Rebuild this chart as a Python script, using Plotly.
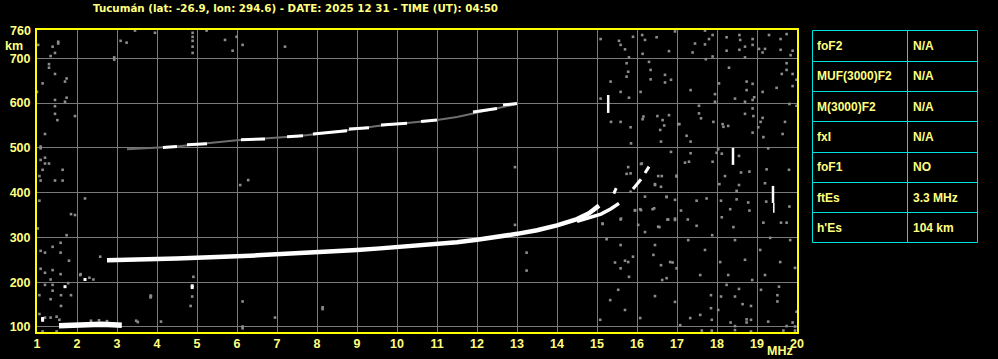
import plotly.graph_objects as go

# ---------------- data ----------------
title_text = "Tucumán (lat: -26.9, lon: 294.6) - DATE: 2025 12 31 - TIME (UT): 04:50"
freq_ticks = list(range(1, 21))
height_ticks = [100, 200, 300, 400, 500, 600, 700]
height_top_label = 760

param_names = ["foF2", "MUF(3000)F2", "M(3000)F2", "fxI", "foF1", "ftEs", "h'Es"]
param_values = ["N/A", "N/A", "N/A", "N/A", "NO", "3.3 MHz", "104 km"]

# Sporadic E echo
es_f = [1.55, 1.8, 2.0, 2.3, 2.6, 2.9, 3.12]
es_h = [103, 104, 106, 106, 106, 105, 104]

# F-layer trace (ordinary)
fo_f = [2.75, 3.0, 3.5, 4.0, 4.5, 5.0, 5.5, 6.0, 6.5, 7.0, 7.5, 8.0, 8.5, 9.0, 9.5,
        10.0, 10.5, 11.0, 11.5, 12.0, 12.5, 13.0, 13.5, 14.0, 14.5, 14.8, 15.05]
fo_h = [249, 250, 251, 252, 253, 254, 256, 258, 260, 262, 264, 266, 269, 272, 275,
        278, 281, 285, 289, 295, 301, 308, 316, 327, 341, 354, 371]

# F-layer second strand
fx_f = [14.5, 14.8, 15.1, 15.35, 15.55]
fx_h = [336, 343, 352, 364, 376]

# upper fragments near the critical frequency
frag_f = [15.42, 15.48, None, 15.9, 16.0, 16.1, None, 16.2, 16.3]
frag_h = [398, 410, None, 408, 418, 430, None, 444, 458]

# multiple-hop (2F) trace, weak part
f2_weak_f = [3.25, 3.7, 4.2, 4.5, 5.0, 5.5, 6.0, 6.5, 7.0, 7.5, 8.0, 8.5, 9.0, 9.5,
             10.0, 10.5, 11.0, 11.5, 12.0, 12.5, 13.0]
f2_weak_h = [497, 499, 501, 503, 508, 513, 517, 520, 523, 526, 531, 536, 542, 549,
             553, 558, 562, 569, 579, 588, 598]
# multiple-hop (2F) trace, strong fragments
f2_strong_f = [4.15, 4.5, None, 4.75, 5.25, None, 6.1, 6.7, None, 7.25, 7.65, None,
               7.9, 8.75, None, 8.8, 9.3, None, 9.6, 10.25, None, 10.6, 11.0, None,
               11.9, 12.5, None, 12.65, 13.0]
f2_strong_h = [501, 503, None, 507, 509, None, 518, 520, None, 525, 527, None,
               531, 538, None, 542, 545, None, 551, 555, None, 559, 562, None,
               580, 588, None, 596, 599]

# isolated vertical interference bars
bar_f = [15.28, 15.28, None, 18.4, 18.4, None, 19.4, 19.4]
bar_h = [578, 618, None, 462, 500, None, 377, 415]
bar_thin_f = [19.42, 19.42]
bar_thin_h = [355, 377]

# strong isolated echoes
white_f = [1.14, 1.14, 1.7, 2.2, 4.88, 4.88]
white_h = [119, 115, 190, 206, 192, 188]

# weak scattered noise echoes
noise = [
    (1.03, 730), (1.39, 726), (1.53, 737), (1.53, 733), (1.45, 712), (1.34, 705), (1.3, 687),
    (1.3, 679), (1.45, 665), (1.74, 655), (1.7, 648), (1.14, 644), (1.0, 625), (1.45, 607),
    (1.74, 612), (1.7, 603), (1.45, 593), (1.45, 576), (1.51, 562), (1.95, 571),
    (1.2, 531), (1.09, 503), (1.09, 499), (1.2, 478), (1.09, 473), (1.2, 465), (1.3, 465),
    (1.14, 451), (1.64, 451), (1.06, 437), (1.09, 427), (1.45, 427), (1.64, 427), (2.2, 387),
    (1.06, 382), (1.85, 352), (1.95, 350),
    (1.74, 305), (1.02, 320), (1.39, 279), (1.59, 288), (1.09, 270), (1.2, 266), (1.59, 266),
    (1.8, 248), (1.09, 230), (1.39, 227), (1.2, 221), (1.59, 218), (1.34, 206), (2.09, 218),
    (2.31, 210), (2.41, 206), (1.78, 198), (1.2, 194), (1.39, 194), (1.06, 171), (1.39, 181),
    (1.34, 162), (1.6, 171), (1.85, 171), (1.6, 147), (1.06, 129), (1.2, 121), (1.34, 121),
    (1.49, 123), (1.56, 116), (1.14, 90), (1.49, 90),
    (3.84, 170), (3.84, 166), (4.84, 147), (4.88, 168), (6.14, 157), (6.14, 101), (6.14, 97),
    (6.95, 121), (4.1, 112), (3.48, 114), (3.52, 111), (2.35, 114), (2.55, 115), (2.75, 113),
    (4.91, 212), (3.85, 169), (8.14, 144), (8.14, 140), (2.58, 257), (2.08, 216),
    (2.93, 702), (2.93, 697), (3.09, 739), (3.24, 735), (3.45, 762), (3.95, 757), (4.89, 757),
    (4.89, 748), (4.89, 739), (4.89, 726), (4.89, 712), (5.24, 762), (5.7, 741), (5.99, 748),
    (5.89, 717), (6.14, 730), (7.2, 726), (6.08, 417), (6.28, 428),
    (12.95, 457), (12.95, 328), (13.24, 266), (13.24, 226), (15.14, 331), (15.24, 296),
    (15.59, 283), (15.59, 231), (15.45, 244), (15.7, 248), (15.9, 257), (15.8, 212),
    (16.08, 363), (15.95, 360), (15.78, 457), (15.74, 442), (16.1, 464), (15.84, 402),
    (16.2, 391), (16.43, 365), (16.53, 324), (16.74, 391), (16.95, 384), (16.76, 340),
    (16.95, 339), (16.53, 437), (16.6, 413), (16.45, 417), (16.99, 438), (16.41, 261),
    (16.6, 238), (16.74, 209), (16.89, 244), (16.99, 231), (15.59, 340),
    (15.09, 743), (15.55, 739), (15.59, 730), (15.7, 720), (15.9, 748), (15.8, 702),
    (16.13, 752), (16.2, 741), (16.14, 710), (16.49, 747), (16.8, 716), (16.95, 760),
    (17.45, 733), (17.39, 713), (17.7, 762), (17.7, 731), (17.8, 743), (17.89, 752),
    (17.72, 698), (17.89, 704), (18.24, 747), (18.24, 717), (18.56, 752), (18.58, 741),
    (18.7, 726), (18.89, 743), (18.89, 730), (18.56, 719), (18.7, 702), (19.05, 721),
    (19.2, 721), (19.14, 713), (19.3, 752), (19.59, 743), (19.59, 719), (19.74, 754),
    (19.89, 717), (19.84, 707),
    (15.09, 610), (15.34, 648), (15.59, 625), (15.8, 612), (15.74, 689), (15.78, 670),
    (15.74, 659), (16.3, 692), (16.34, 674), (16.34, 653), (16.7, 663), (16.7, 646),
    (16.85, 652), (16.09, 625), (17.34, 629), (17.95, 620), (17.95, 603), (18.05, 644),
    (18.3, 679), (18.45, 610), (18.74, 648), (18.89, 643), (18.74, 629), (18.93, 613),
    (18.89, 607), (18.7, 603), (19.14, 625), (19.49, 634), (19.74, 689), (19.74, 674),
    (19.89, 665), (19.89, 638), (19.99, 652), (19.62, 665), (16.16, 570), (16.51, 571),
    (16.64, 562), (16.8, 573), (17.03, 553), (17.55, 594), (17.55, 577), (17.6, 566),
    (17.91, 558), (18.7, 576), (18.89, 588), (18.91, 571), (19.09, 558), (19.14, 567),
    (19.7, 558), (19.81, 598), (19.99, 594), (16.14, 564), (15.84, 546), (16.68, 550),
    (18.16, 547), (19.03, 546), (15.59, 558), (15.35, 558),
    (15.85, 510), (16.58, 540), (16.6, 514), (16.85, 491), (17.06, 553), (17.24, 527),
    (17.34, 514), (17.34, 488), (17.2, 467), (17.3, 469), (17.89, 469), (17.99, 489),
    (18.03, 497), (18.14, 553), (18.28, 549), (18.12, 487), (18.55, 482), (18.6, 445),
    (18.81, 447), (18.2, 437), (18.89, 534), (19.16, 524), (19.28, 499), (19.64, 531),
    (19.24, 452), (19.8, 451), (18.06, 419), (18.55, 417), (18.49, 404), (19.2, 421),
    (16.12, 465), (15.84, 443), (16.62, 437), (16.99, 436), (16.45, 419),
    (15.95, 361), (16.1, 361), (16.39, 363), (16.74, 390), (17.1, 360), (17.49, 382),
    (17.74, 387), (18.1, 382), (18.49, 385), (18.78, 378), (18.81, 360), (18.33, 363),
    (18.12, 345), (19.23, 380), (19.81, 369), (19.6, 333), (19.74, 333), (19.16, 333),
    (18.41, 323), (17.49, 326), (17.27, 340), (16.95, 342), (16.78, 340), (16.56, 323),
    (16.03, 328), (15.6, 342), (15.14, 330),
    (18.24, 194), (18.55, 185), (19.1, 183), (19.55, 190), (17.85, 171), (18.1, 168),
    (18.45, 168), (19.51, 171), (19.51, 157), (18.64, 151), (18.85, 147), (17.85, 142),
    (18.03, 138), (17.58, 127), (17.87, 116), (18.34, 110), (18.74, 110), (18.74, 117),
    (18.85, 116), (19.28, 112), (19.74, 102), (19.89, 110), (19.95, 101), (19.99, 134),
    (18.45, 102), (18.45, 93), (17.62, 92), (17.87, 92), (18.85, 90), (19.66, 92), (19.95, 92),
    (15.33, 160), (15.53, 183), (15.78, 245), (16.08, 120), (16.45, 169), (16.63, 205),
    (16.95, 156), (17.33, 120), (17.58, 216), (17.7, 272), (17.28, 294), (16.45, 283),
    (16.2, 312), (16.83, 245), (15.08, 116), (15.7, 138), (17.08, 104), (17.88, 305),
    (18.08, 245), (18.45, 294), (18.7, 250), (19.08, 272), (19.33, 299), (19.58, 245),
    (19.83, 294), (19.95, 232), (18.88, 205), (19.2, 216), (18.28, 216),
]
noise_f = [p[0] for p in noise]
noise_h = [p[1] for p in noise]

# ---------------- layout constants ----------------
W, H = 998, 359
ML, MR, MT, MB = 37, 21, 30, 27
PW = W - ML - MR
PH = H - MT - MB
XDOM = 760 / PW
Y_RANGE = [88.8, 763.2]

YEL = "#ffff00"
TXT = "#ffff80"
GRID = "#7a7a7a"
DOT = "#8c8c8c"
CYAN = "#00e0e0"
FONT = "Liberation Sans"


def px_x(px):
    return (px - ML) / PW


def px_y(py):
    return (H - MB - py) / PH


fig = go.Figure()


def line(xs, ys, color, width):
    fig.add_trace(go.Scatter(x=xs, y=ys, mode="lines", line=dict(color=color, width=width),
                             hoverinfo="skip", showlegend=False))


fig.add_trace(go.Scatter(x=noise_f, y=noise_h, mode="markers",
                         marker=dict(symbol="square", size=2.6, color=DOT, line=dict(width=0)),
                         hoverinfo="skip", showlegend=False))
line(f2_weak_f, f2_weak_h, "#6e6e6e", 2)
line(f2_strong_f, f2_strong_h, "white", 3)
line(es_f, es_h, "white", 5.5)
line(fo_f, fo_h, "white", 4.5)
line(fx_f, fx_h, "white", 3.5)
line(frag_f, frag_h, "white", 3)
line(bar_f, bar_h, "white", 2.5)
line(bar_thin_f, bar_thin_h, "white", 1.5)
fig.add_trace(go.Scatter(x=white_f, y=white_h, mode="markers",
                         marker=dict(symbol="square", size=3, color="white", line=dict(width=0)),
                         hoverinfo="skip", showlegend=False))

# ---------------- parameter table (borders + text) ----------------
T_X0, T_X1, T_XM = 812.5, 977.5, 907.5
T_Y0, T_Y1 = 30.5, 242.5
n_rows = len(param_names)
row_h = (T_Y1 - T_Y0) / n_rows
shapes = [
    dict(type="rect", xref="paper", yref="paper", x0=px_x(T_X0), x1=px_x(T_X1),
         y0=px_y(T_Y1), y1=px_y(T_Y0), line=dict(color=CYAN, width=1), fillcolor="black",
         layer="below"),
    dict(type="line", xref="paper", yref="paper", x0=px_x(T_XM), x1=px_x(T_XM),
         y0=px_y(T_Y1), y1=px_y(T_Y0), line=dict(color=CYAN, width=1)),
]
for i in range(1, n_rows):
    yy = round(T_Y0 + i * row_h) + 0.5
    shapes.append(dict(type="line", xref="paper", yref="paper", x0=px_x(T_X0), x1=px_x(T_X1),
                       y0=px_y(yy), y1=px_y(yy), line=dict(color=CYAN, width=1)))

tfont = dict(family=FONT, size=12, color=TXT, weight="bold")
axfont = dict(family=FONT, size=12.5, color=TXT, weight="bold")

annotations = []
for i, (nm, val) in enumerate(zip(param_names, param_values)):
    cy = T_Y0 + (i + 0.5) * row_h + 0.5
    annotations.append(dict(text=nm, xref="paper", yref="paper", x=px_x(816), y=px_y(cy),
                            xanchor="left", yanchor="middle", showarrow=False, font=tfont,
                            borderpad=0))
    annotations.append(dict(text=val, xref="paper", yref="paper", x=px_x(911.5), y=px_y(cy),
                            xanchor="left", yanchor="middle", showarrow=False, font=tfont,
                            borderpad=0))

annotations += [
    dict(text=title_text, xref="paper", yref="paper", x=px_x(295), y=px_y(8),
         xanchor="center", yanchor="middle", showarrow=False, borderpad=0,
         font=dict(family="DejaVu Sans", size=10.3, color=TXT, weight="bold")),
    dict(text=str(height_top_label), xref="paper", yref="y", x=px_x(31.5),
         y=height_top_label, xanchor="right", yanchor="middle", showarrow=False,
         font=axfont, borderpad=0),
    dict(text="km", xref="paper", yref="paper", x=px_x(4), y=px_y(46),
         xanchor="left", yanchor="middle", showarrow=False, font=axfont, borderpad=0),
    dict(text="MHz", xref="paper", yref="paper", x=px_x(780), y=px_y(358.5),
         xanchor="center", yanchor="bottom", showarrow=False, font=axfont, borderpad=0),
]

fig.update_layout(
    width=W, height=H,
    margin=dict(l=ML, r=MR, t=MT, b=MB, pad=0, autoexpand=False),
    paper_bgcolor="black", plot_bgcolor="black",
    showlegend=False,
    xaxis=dict(domain=[0, XDOM], range=[1, 20], tickvals=freq_ticks,
               ticktext=[str(v) for v in freq_ticks],
               showgrid=True, gridcolor=GRID, gridwidth=1, zeroline=False,
               showline=True, linecolor=YEL, linewidth=2, mirror=True,
               ticks="", ticklabelstandoff=-1, tickfont=axfont, fixedrange=True),
    yaxis=dict(range=Y_RANGE, tickvals=height_ticks,
               ticktext=[str(v) for v in height_ticks],
               showgrid=True, gridcolor=GRID, gridwidth=1, zeroline=False,
               showline=True, linecolor=YEL, linewidth=2, mirror=True,
               ticks="", ticklabelstandoff=2, tickfont=axfont, fixedrange=True),
    shapes=shapes,
    annotations=annotations,
)

fig.write_html("out.html")
